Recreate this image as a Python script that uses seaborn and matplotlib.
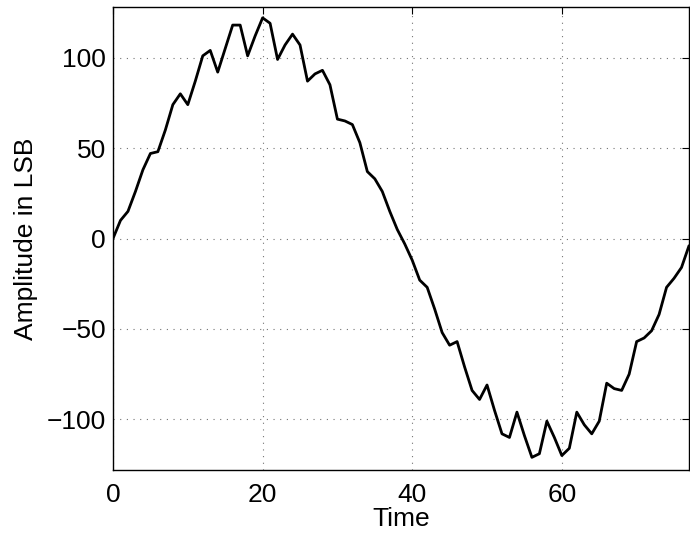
import numpy as np
import pandas as pd
import matplotlib
matplotlib.use("Agg")
import matplotlib.pyplot as plt
import seaborn as sns

# Sampled signal (one period of a quantised sine with noise)
time = list(range(78))
amplitude = [
    0, 10, 15, 26, 38, 47, 48, 60, 74, 80,
    74, 87, 101, 104, 92, 105, 118, 118, 101, 112,
    122, 119, 99, 107, 113, 107, 87, 91, 93, 85,
    66, 65, 63, 53, 37, 33, 26, 15, 5, -3,
    -12, -23, -27, -39, -52, -59, -57, -71, -84, -89,
    -81, -95, -108, -110, -96, -109, -121, -119, -101, -110,
    -120, -116, -96, -103, -108, -101, -80, -83, -84, -75,
    -57, -55, -51, -42, -27, -22, -16, -4,
]
x_ticks = [0, 20, 40, 60]
y_ticks = [-100, -50, 0, 50, 100]

df = pd.DataFrame({"Time": time, "Amplitude in LSB": amplitude})

sns.set_theme(style="white")
plt.rcParams["font.family"] = ["Liberation Sans", "DejaVu Sans"]
plt.rcParams["axes.unicode_minus"] = True
plt.rcParams["text.color"] = "black"
plt.rcParams["axes.labelcolor"] = "black"

fig = plt.figure(figsize=(6.9, 5.34), dpi=100)
ax = fig.add_axes([113 / 690, 64 / 534, 576 / 690, 463 / 534])

sns.lineplot(data=df, x="Time", y="Amplitude in LSB", color="black",
             linewidth=2.0, ax=ax)

ax.set_xlim(0, 77)
ax.set_ylim(-128, 128)
ax.set_xticks(x_ticks)
ax.set_yticks(y_ticks)

ax.grid(True, color="0.45", linestyle=(0, (1, 5)), linewidth=0.8)
for side in ["left", "right", "top", "bottom"]:
    ax.spines[side].set_visible(True)
    ax.spines[side].set_color("black")
    ax.spines[side].set_linewidth(1.0)

ax.tick_params(direction="in", length=5, width=0.8, colors="black",
               top=True, right=True, labelsize=19, pad=9)
ax.tick_params(axis="y", pad=5)
ax.set_xlabel("Time", fontsize=19, labelpad=0, color="black")
ax.set_ylabel("Amplitude in LSB", fontsize=19, labelpad=6, color="black")

fig.savefig("out.png", dpi=100, facecolor="white")
